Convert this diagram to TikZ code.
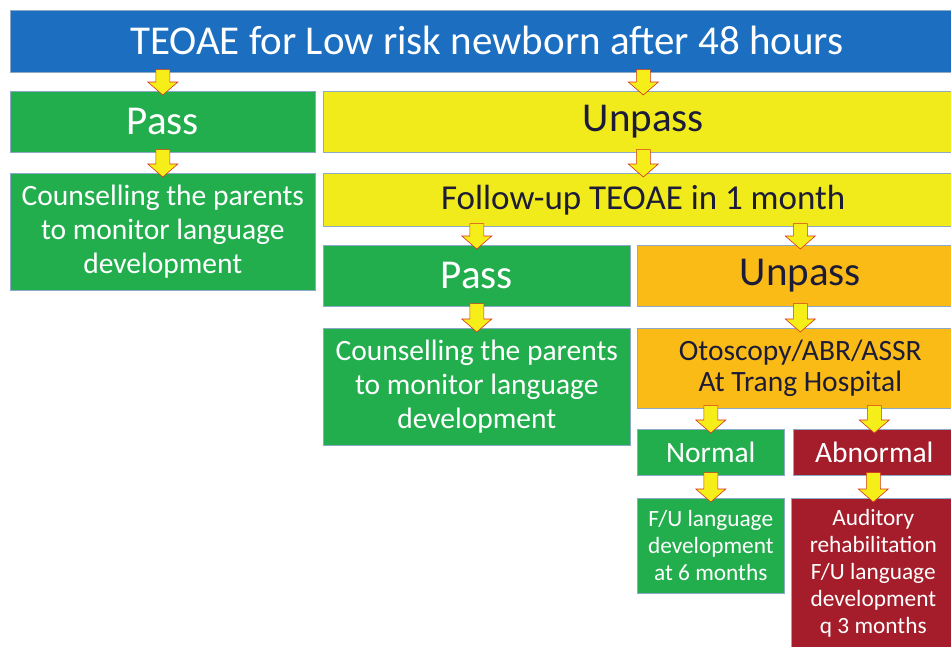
\documentclass[tikz,border=0pt]{standalone}
\usepackage{fontspec}
\setmainfont{Carlito}
\usepackage{xcolor}
\usetikzlibrary{calc}

\definecolor{titleblue}{RGB}{28,111,192}
\definecolor{passgreen}{RGB}{35,174,78}
\definecolor{unpassyellow}{RGB}{242,235,27}
\definecolor{unpassorange}{RGB}{251,187,22}
\definecolor{abnormalred}{RGB}{165,29,42}
\definecolor{boxedge}{RGB}{140,170,200}
\definecolor{darktext}{RGB}{28,28,56}
\definecolor{arrowedge}{RGB}{214,52,32}
\definecolor{arrowfill}{RGB}{246,238,24}

% block arrow from the bottom of one box to the top of the next
\newcommand{\flowarrow}[2]{%
	\path[flowarrowbox] let \p1=(#1.south), \p2=(#2.north) in
	(\x2-7pt,\y1+3pt) -- (\x2-7pt,\y2+9pt) -- (\x2-15pt,\y2+9pt) -- (\x2,\y2-4pt)
	-- (\x2+15pt,\y2+9pt) -- (\x2+7pt,\y2+9pt) -- (\x2+7pt,\y1+3pt) -- cycle;}

\begin{document}
\begin{tikzpicture}[x=1pt,y=-1pt,
	box/.style={rectangle, draw=boxedge, line width=0.6pt, anchor=north west, align=center, inner sep=0pt},
	whitebox/.style={box, text=white},
	darkbox/.style={box, text=darktext},
	flowarrowbox/.style={fill=arrowfill, draw=arrowedge, line width=0.6pt, line join=miter}]
		% Parameters
		\def\rgt{963}
		\def\lcol{305}
		\def\mcol{307}
		\def\bigfont{\fontsize{41}{48}\selectfont}
		\def\midfont{\fontsize{29.5}{34}\selectfont}
		\def\smallfont{\fontsize{23.3}{27}\selectfont}
		
		\useasboundingbox (0,0) rectangle (951,646);
		\fill[white] (0,0) rectangle (951,646);
		\clip (0,0) rectangle (951,646);
		
		%top
		\node[whitebox, fill=titleblue, minimum width=\rgt pt-10pt, minimum height=62pt, font=\fontsize{41}{48}\selectfont] (title) at (10,10) {\raisebox{2pt}{TEOAE for Low risk newborn after 48 hours}};
		
		%first screening
		\node[whitebox, fill=passgreen, minimum width=\lcol pt, minimum height=61pt, font=\bigfont] (pass1) at (10,91) {Pass};
		\node[darkbox, fill=unpassyellow, minimum width=\rgt pt-323pt, minimum height=61pt, font=\bigfont] (unpass1) at (323,91) {Unpass};
		\node[whitebox, fill=passgreen, minimum width=\lcol pt, minimum height=117pt, font=\midfont] (couns1) at (10,173) {Counselling the parents\\to monitor language\\development};
		\node[darkbox, fill=unpassyellow, minimum width=\rgt pt-323pt, minimum height=53pt, font=\fontsize{35}{41}\selectfont] (follow) at (323,173) {Follow-up TEOAE in 1 month};
		
		%follow-up
		\node[whitebox, fill=passgreen, minimum width=\mcol pt, minimum height=61pt, font=\bigfont] (pass2) at (323,245) {Pass};
		\node[darkbox, fill=unpassorange, minimum width=\rgt pt-637pt, minimum height=61pt, font=\bigfont] (unpass2) at (637,245) {Unpass};
		\node[whitebox, fill=passgreen, minimum width=\mcol pt, minimum height=117pt, font=\midfont] (couns2) at (323,328) {Counselling the parents\\to monitor language\\development};
		\node[darkbox, fill=unpassorange, minimum width=\rgt pt-637pt, minimum height=80pt, font=\fontsize{29.5}{31}\selectfont] (otoscopy) at (637,328) {Otoscopy/ABR/ASSR\\At Trang Hospital};
		
		%hospital results
		\node[whitebox, fill=passgreen, minimum width=147pt, minimum height=46pt, font=\midfont] (normal) at (637,429) {Normal};
		\node[whitebox, fill=abnormalred, minimum width=162pt, minimum height=46pt, font=\midfont] (abnormal) at (793,429) {Abnormal};
		\node[whitebox, fill=passgreen, minimum width=147pt, minimum height=95pt, font=\smallfont] (fu6) at (637,498) {F/U language\\development\\at 6 months};
		\node[whitebox, fill=abnormalred, minimum width=164pt, minimum height=150pt, font=\smallfont] (rehab) at (791,498) {Auditory\\rehabilitation\\F/U language\\development\\q 3 months};
		
		%arrows
		\flowarrow{title}{pass1}
		\flowarrow{title}{unpass1}
		\flowarrow{pass1}{couns1}
		\flowarrow{unpass1}{follow}
		\flowarrow{follow}{pass2}
		\flowarrow{follow}{unpass2}
		\flowarrow{pass2}{couns2}
		\flowarrow{unpass2}{otoscopy}
		\flowarrow{otoscopy}{normal}
		\flowarrow{otoscopy}{abnormal}
		\flowarrow{normal}{fu6}
		\flowarrow{abnormal}{rehab}
		
\end{tikzpicture}
\end{document}
